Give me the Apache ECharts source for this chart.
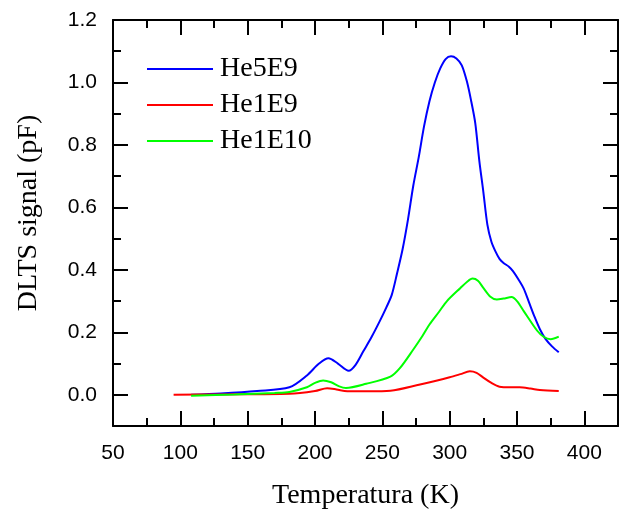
<!DOCTYPE html>
<html><head><meta charset="utf-8">
<script src="https://cdn.jsdelivr.net/npm/echarts@6/dist/echarts.min.js"></script>
<style>html,body{margin:0;padding:0;background:#fff}#c{width:624px;height:515px}</style>
</head><body><div id="c"></div>
<script>
const seriesNames = ['He5E9', 'He1E9', 'He1E10'];
const seriesColors = ['#0000ff', '#ff0000', '#00ff00'];
const xTitle = 'Temperatura (K)';
const yTitle = 'DLTS signal (pF)';

const blueT = [108,130,157,181,194,203,210,217,225,230,236,242,248,253,257,261,265,269,273,277,281,285,289,293,297,301,305,309,313,316,319,322,325,328,331,334,337,340,344,347,351,355,359,363,367,371,376,381];
const blueV = [0,0.004,0.012,0.024,0.062,0.1,0.117,0.1,0.077,0.095,0.14,0.185,0.235,0.28,0.32,0.39,0.465,0.56,0.67,0.76,0.86,0.94,1.0,1.045,1.075,1.084,1.077,1.055,1.0,0.94,0.87,0.75,0.65,0.545,0.49,0.459,0.435,0.422,0.41,0.396,0.37,0.34,0.295,0.25,0.21,0.18,0.155,0.136];

const redT = [95,130,181,200,209,216,224,240,256,278,290,300,308,315,320,325,331,337,345,352,360,367,381];
const redV = [0,0.001,0.003,0.012,0.021,0.017,0.011,0.011,0.013,0.033,0.045,0.056,0.066,0.075,0.07,0.055,0.038,0.026,0.024,0.024,0.02,0.015,0.012];

const greenT = [108,140,170,181,194,200,206,212,218,223,238,256,263,273,280,285,292,298,308,313,317,321,325,330,335,340,346,350,355,365,370,375,381];
const greenV = [-0.003,0.001,0.006,0.009,0.024,0.038,0.046,0.04,0.027,0.022,0.035,0.058,0.085,0.145,0.19,0.225,0.265,0.3,0.342,0.362,0.372,0.365,0.342,0.315,0.305,0.308,0.313,0.3,0.268,0.205,0.185,0.178,0.186];

const xMin = 50, xMax = 425, xMajor = 50, xMinor = 25;
const yMin = -0.1, yMax = 1.2, yMinor = 0.1;

function zip(a, b) { return a.map((t, i) => [t, b[i]]); }
const allData = [zip(blueT, blueV), zip(redT, redV), zip(greenT, greenV)];

const lineStyleAxis = { color: '#000', width: 2 };
const serif = '"Liberation Serif", "Times New Roman", serif';
const sans = '"Liberation Sans", Arial, sans-serif';

function majorX(pos, labels) {
  return {
    type: 'value', position: pos, min: xMin, max: xMax, interval: xMajor,
    axisLine: { show: true, lineStyle: lineStyleAxis, onZero: false },
    axisTick: { show: true, inside: true, length: 15, lineStyle: { color: '#000', width: 2 } },
    axisLabel: labels ? { show: true, margin: 17, color: '#000', fontSize: 21, fontFamily: sans,
      formatter: v => (v % 50 === 0 && v <= 400) ? String(v) : '' } : { show: false },
    splitLine: { show: false },
    name: labels ? xTitle : '', nameLocation: 'middle', nameGap: 56,
    nameTextStyle: { color: '#000', fontSize: 28, fontFamily: serif }
  };
}
function minorX(pos) {
  return {
    type: 'value', position: pos, min: xMin, max: xMax, interval: xMinor,
    axisLine: { show: false, onZero: false },
    axisTick: { show: true, inside: true, length: 8, lineStyle: { color: '#000', width: 2 } },
    axisLabel: { show: false }, splitLine: { show: false }
  };
}
function majorY(pos, labels) {
  return {
    type: 'value', position: pos, min: yMin, max: yMax, splitNumber: 7,
    axisLine: { show: true, lineStyle: lineStyleAxis, onZero: false },
    axisTick: { show: true, inside: true, length: 15, lineStyle: { color: '#000', width: 2 } },
    axisLabel: labels ? { show: true, margin: 16, color: '#000', fontSize: 21, fontFamily: sans,
      formatter: v => v < -0.01 ? '' : v.toFixed(1) } : { show: false },
    splitLine: { show: false }
  };
}
function minorY(pos) {
  return {
    type: 'value', position: pos, min: yMin, max: yMax, interval: yMinor,
    axisLine: { show: false, onZero: false },
    axisTick: { show: true, inside: true, length: 8, lineStyle: { color: '#000', width: 2 } },
    axisLabel: { show: false }, splitLine: { show: false }
  };
}

const chart = echarts.init(document.getElementById('c'), null, { renderer: 'canvas' });
chart.setOption({
  animation: false,
  backgroundColor: '#fff',
  grid: { left: 113, right: 6, top: 20, bottom: 86, containLabel: false },
  legend: {
    orient: 'vertical', left: 142, top: 49, itemWidth: 66, itemHeight: 2, itemGap: 6,
    icon: 'rect',
    data: seriesNames,
    textStyle: { color: '#000', fontSize: 28, fontFamily: serif, lineHeight: 30, padding: [0, 0, 0, 2] }
  },
  graphic: [{
    type: 'text', x: 29, y: 213, rotation: Math.PI / 2,
    style: { text: yTitle, fill: '#000', font: '28px ' + serif, textAlign: 'center', textVerticalAlign: 'middle' }
  }],
  xAxis: [majorX('bottom', true), majorX('top', false), minorX('bottom'), minorX('top')],
  yAxis: [majorY('left', true), majorY('right', false), minorY('left'), minorY('right')],
  series: seriesNames.map((n, i) => ({
    name: n, type: 'line', xAxisIndex: 0, yAxisIndex: 0,
    data: allData[i], smooth: 0.3, showSymbol: false, symbol: 'none',
    lineStyle: { color: seriesColors[i], width: 2 }, itemStyle: { color: seriesColors[i] }
  }))
});
</script></body></html>
